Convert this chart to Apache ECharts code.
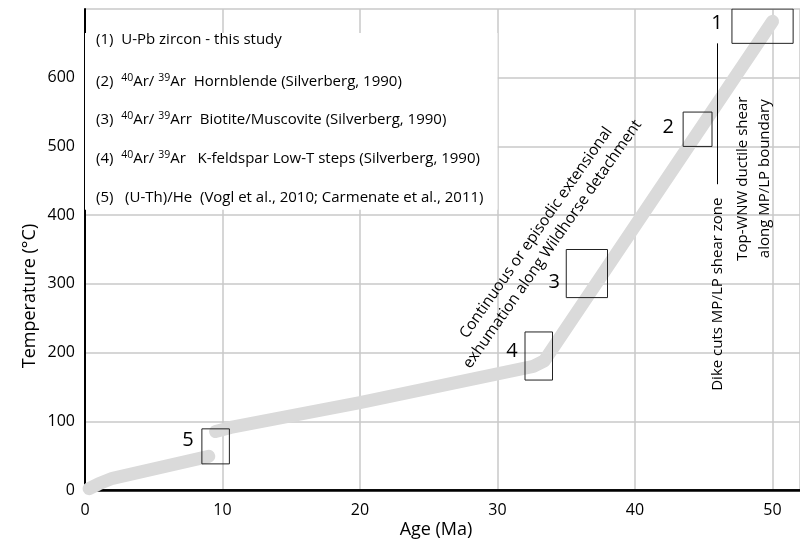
<!DOCTYPE html>
<html><head><meta charset="utf-8">
<script src="https://cdn.jsdelivr.net/npm/echarts@6/dist/echarts.min.js"></script>
<style>html,body{margin:0;padding:0;background:#fff}#c{width:800px;height:548px}</style>
</head><body><div id="c"></div>
<script>
// ---- data ----
const ageTicks = [0, 10, 20, 30, 40, 50];
const tempTicks = [0, 100, 200, 300, 400, 500, 600];
const pathYoung = [[0.3, 2], [1, 9], [2, 17], [9, 49]];
const pathOld = [[9.5, 85], [10.6, 91], [20, 127], [32.6, 180], [33.4, 188], [50, 682]];
const boxLabels = ['1', '2', '3', '4', '5'];
const boxAge = [[47.05, 51.5], [43.5, 45.6], [35, 38], [32, 34], [8.5, 10.5]];
const boxTemp = [[650, 700], [500, 550], [280, 350], [160, 230], [38, 89]];
const dikeAge = [46, 46];
const dikeTemp = [445, 650];
const legendArea = [[0, 408], [30, 665]];
const legendLines = [
  '(1)  U-Pb zircon - this study',
  '(2)  {sup|40}Ar/ {sup|39}Ar  Hornblende (Silverberg, 1990)',
  '(3)  {sup|40}Ar/ {sup|39}Arr  Biotite/Muscovite (Silverberg, 1990)',
  '(4)  {sup|40}Ar/ {sup|39}Ar   K-feldspar Low-T steps (Silverberg, 1990)',
  '(5)   (U-Th)/He  (Vogl et al., 2010; Carmenate et al., 2011)'
];
const diagText = 'Continuous or episodic extensional\nexhumation along Wildhorse detachment';
const dikeText = 'Dike cuts MP/LP shear zone';
const shearText = 'Top-WNW ductile shear\nalong MP/LP boundary';
const xName = 'Age (Ma)';
const yName = 'Temperature (°C)';

// ---- chart ----
const FONT = 'Open Sans';
const chart = echarts.init(document.getElementById('c'), null, {renderer: 'canvas'});
const band = {color: '#dadada', width: 13, cap: 'round', join: 'round'};

const boxSeries = boxLabels.map((l, i) => {
  const [a0, a1] = boxAge[i], [t0, t1] = boxTemp[i];
  return {type: 'line', data: [[a0, t0], [a1, t0], [a1, t1], [a0, t1], [a0, t0]],
    showSymbol: false, silent: true, z: 6, lineStyle: {color: '#222', width: 1, join: 'miter'}};
});

const option = {
  animation: false,
  backgroundColor: '#fff',
  textStyle: {fontFamily: FONT},
  grid: {left: 85, right: 0, top: 9, bottom: 58, containLabel: false},
  xAxis: [{
    type: 'value', min: 0, max: 52, interval: 10,
    axisLine: {show: true, onZero: false, lineStyle: {color: '#000', width: 2.5}},
    axisTick: {show: false},
    axisLabel: {color: '#000', fontSize: 16, fontFamily: FONT, margin: 12, showMaxLabel: false,
      formatter: v => ageTicks.includes(v) ? String(v) : ''},
    splitLine: {show: true, lineStyle: {color: '#c8c8c8', width: 1.5}}
  }, {
    type: 'value', position: 'top', min: 0, max: 52,
    axisLine: {show: true, lineStyle: {color: '#000', width: 1.5}},
    axisTick: {show: false}, axisLabel: {show: false}, splitLine: {show: false}
  }],
  yAxis: {
    type: 'value', min: 0, max: 700, interval: 100,
    axisLine: {show: true, onZero: false, lineStyle: {color: '#000', width: 2}},
    axisTick: {show: false},
    axisLabel: {color: '#000', fontSize: 16, fontFamily: FONT, margin: 10, showMaxLabel: false,
      formatter: v => tempTicks.includes(v) ? String(v) : ''},
    splitLine: {show: true, lineStyle: {color: '#c8c8c8', width: 1.5}}
  },
  series: [
    {
      type: 'line', data: [], silent: true, z: 1,
      markArea: {silent: true, itemStyle: {color: '#fff', borderWidth: 0},
        data: [[{coord: legendArea[0]}, {coord: legendArea[1]}]]}
    },
    {type: 'line', data: pathYoung, showSymbol: false, silent: true, z: 2, lineStyle: band},
    {type: 'line', data: pathOld, showSymbol: false, silent: true, z: 2, lineStyle: band},
    {type: 'line', data: dikeAge.map((a, i) => [a, dikeTemp[i]]), showSymbol: false, silent: true, z: 3,
      lineStyle: {color: '#000', width: 1}}
  ].concat(boxSeries)
};
chart.setOption(option);

// annotation layout (pixel offsets relative to data anchors)
const px = (x, y) => chart.convertToPixel({xAxisIndex: 0, yAxisIndex: 0}, [x, y]);
const labelOffsets = [[-15, -3], [-15, -2], [-12, 9], [-13, -5], [-14, -6]];
const graphics = [];
boxLabels.forEach((l, i) => {
  const p = px(boxAge[i][0], (boxTemp[i][0] + boxTemp[i][1]) / 2);
  graphics.push({type: 'text', z: 10, x: p[0] + labelOffsets[i][0], y: p[1] + labelOffsets[i][1],
    style: {text: l, font: '20px "' + FONT + '"', fill: '#000', align: 'center', verticalAlign: 'middle'}});
});
const legendY = [40, 82, 120, 159, 198];
legendLines.forEach((t, i) => {
  graphics.push({type: 'text', z: 10, x: 96, y: legendY[i],
    style: {text: t, fontSize: 15, fontFamily: FONT, fill: '#000', align: 'left', verticalAlign: 'middle',
      rich: {sup: {fontSize: 10.5, fontFamily: FONT, verticalAlign: 'top', padding: [0, 0, 8, 0]}}}});
});
const dp = px(33.4, 366);
graphics.push({type: 'text', z: 10, x: dp[0], y: dp[1], rotation: 55 * Math.PI / 180,
  style: {text: diagText, fontSize: 15.5, fontFamily: FONT, fill: '#000', align: 'center', verticalAlign: 'middle', lineHeight: 20}});
const kp = px(46, 285);
graphics.push({type: 'text', z: 10, x: kp[0], y: kp[1], rotation: Math.PI / 2,
  style: {text: dikeText, fontSize: 15, fontFamily: FONT, fill: '#000', align: 'center', verticalAlign: 'middle'}});
const sp = px(48.65, 453);
graphics.push({type: 'text', z: 10, x: sp[0], y: sp[1], rotation: Math.PI / 2,
  style: {text: shearText, fontSize: 15, fontFamily: FONT, fill: '#000', align: 'center', verticalAlign: 'middle', lineHeight: 22}});
graphics.push({type: 'text', z: 10, x: 436, y: 530,
  style: {text: xName, fontSize: 18, fontFamily: FONT, fill: '#000', align: 'center', verticalAlign: 'middle'}});
graphics.push({type: 'text', z: 10, x: 30, y: 296, rotation: Math.PI / 2,
  style: {text: yName, fontSize: 18, fontFamily: FONT, fill: '#000', align: 'center', verticalAlign: 'middle'}});
chart.setOption({graphic: graphics});
</script></body></html>
